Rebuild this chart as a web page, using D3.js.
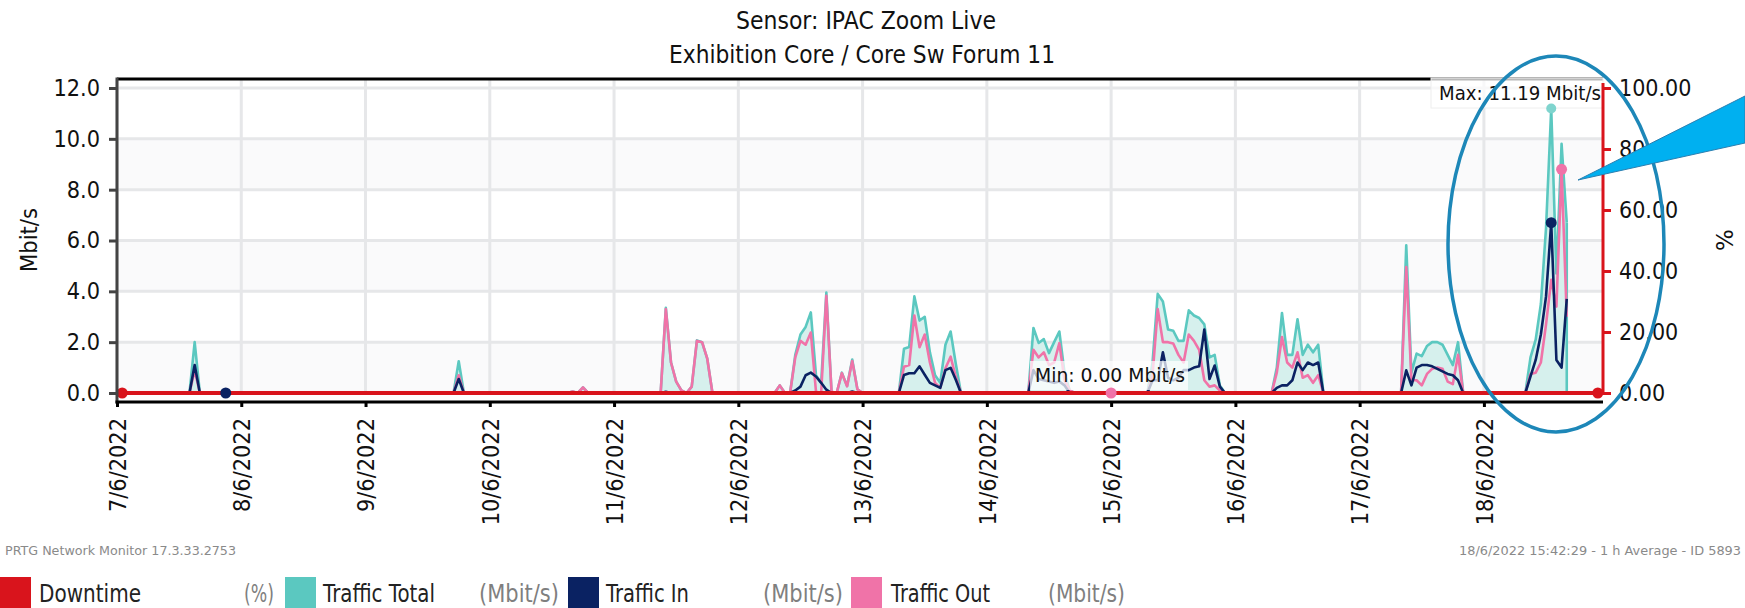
<!DOCTYPE html>
<html><head><meta charset="utf-8">
<script src="https://cdn.jsdelivr.net/npm/d3@7"></script>
<style>
html,body{margin:0;padding:0;background:#fff;overflow:hidden;}
svg{display:block;font-family:"DejaVu Sans",sans-serif;}
</style></head><body>
<svg id="chart" width="1745" height="608"></svg>
<script>
// ---------------- DATA ----------------
const titleLines = ["Sensor: IPAC Zoom Live", "Exhibition Core / Core Sw Forum 11"];
const xTickLabels = ["7/6/2022","8/6/2022","9/6/2022","10/6/2022","11/6/2022","12/6/2022","13/6/2022","14/6/2022","15/6/2022","16/6/2022","17/6/2022","18/6/2022"];
const yTicks = [0, 2, 4, 6, 8, 10, 12];
const pctTicks = [0, 20, 40, 60, 80, 100];
// hour offsets from 7/6/2022 00:00 (1 h averages); hours not listed are 0
const hours = [15, 66, 88, 90,
  106,107,108,109,111,112,113,114,
  128,131,132,133,134,135,136,137,138,140,141,142,143,
  152,153,154,155,156,157,158,159,160,161,162,
  177,178,179,180,181,182,183,184,
  200,201,202,203,204,205,206,207,208,209,210,211,212,213,
  224,225,226,227,228,229,230,231,232,
  249,250,251,252,253,254,255,256,257,258,259,
  273,274,275,276,277,278,279,280];
const trafficTotal = [2.0, 1.25, 0.06, 0.22,
  3.35,1.2,0.45,0.1,0.25,2.07,2.0,1.35,
  0.3,1.5,2.3,2.6,3.17,0.7,0.4,3.95,0.05,0.8,0.28,1.32,0.15,
  1.74,1.81,3.8,2.85,3.0,1.6,0.7,0.4,1.9,2.42,1.15,
  2.56,1.97,2.12,1.57,2.0,2.42,0.8,0.1,
  1.2,3.9,3.6,2.5,2.45,2.05,2.05,3.25,3.05,2.95,2.7,1.4,1.5,0.3,
  1.0,3.15,1.5,1.5,2.9,1.5,1.9,1.6,1.9,
  5.81,0.8,1.55,1.45,1.85,2.0,2.0,1.9,1.5,1.1,2.0,
  1.4,2.1,3.5,6.5,11.19,4.7,9.8,6.7];
const trafficIn = [1.1, 0.55, 0, 0,
  0.05,0,0,0,0,0.02,0,0,
  0,0.1,0.25,0.7,0.8,0.65,0.4,0.13,0,0.02,0,0.06,0,
  0.71,0.78,0.78,1.05,0.72,0.4,0.3,0.2,0.9,0.99,0.52,
  0.9,0.55,0.5,0.45,0.4,0.45,0.3,0,
  0.5,0.5,1.6,0.6,0.5,0.6,0.9,0.9,1.0,1.05,2.5,0.55,1.08,0.25,
  0.2,0.3,0.3,0.5,1.2,0.9,1.2,1.1,1.2,
  0.89,0.3,1.0,1.1,1.1,1.05,0.95,0.85,0.75,0.7,0.5,
  0.65,1.3,2.3,3.8,6.7,1.3,1.0,3.7];
const trafficOut = [0.9, 0.7, 0.06, 0.22,
  3.3,1.2,0.45,0.1,0.25,2.05,2.0,1.35,
  0.3,1.4,2.05,1.9,2.38,0.05,0,3.82,0.05,0.78,0.26,1.26,0.15,
  1.03,1.1,3.05,1.8,2.3,1.2,0.4,0.2,0.97,1.43,0.63,
  1.7,1.4,1.6,1.1,1.2,1.96,0.5,0.1,
  0.7,3.3,2.0,2.0,1.95,1.5,1.2,2.3,2.05,1.7,0.5,0.25,0.3,0.1,
  0.8,2.2,1.2,1.0,1.6,0.6,0.7,0.4,0.7,
  4.96,0.5,0.5,0.3,0.75,0.95,1.0,0.95,0.45,0.35,1.5,
  0.75,0.8,1.2,2.7,4.45,3.4,8.8,3.0];
const lastDataHour = 280;
const domainHours = 287;
const downtimeMarkerHours = [1, 286];
const minInHour = 21, minOutHour = 192;
const maxLabel = "Max: 11.19 Mbit/s", minLabel = "Min: 0.00 Mbit/s";
const legendNames = ["Downtime", "Traffic Total", "Traffic In", "Traffic Out"];
const legendUnits = ["(%)", "(Mbit/s)", "(Mbit/s)", "(Mbit/s)"];
const footerLeft = "PRTG Network Monitor 17.3.33.2753";
const footerRight = "18/6/2022 15:42:29 - 1 h Average - ID 5893";

// ---------------- STYLE ----------------
const C = {red:"#d9141c", teal:"#5bc8c0", navy:"#0a2262", pink:"#f073a8", grid:"#e6e7e9", band:"#fafafb", area:"#d2eeeb"};
const L = {left:117, right:1603, top:79, zero:393, y12:88, axisY:402};

const svg = d3.select("#chart");
const t0 = Date.UTC(2022, 5, 7);
const H = 3600 * 1000;
const x = d3.scaleUtc().domain([new Date(t0), new Date(t0 + domainHours * H)]).range([L.left, L.right]);
const y = d3.scaleLinear().domain([0, 12]).range([L.zero, L.y12]);
const yPct = d3.scaleLinear().domain([0, 100]).range([L.zero, L.y12]);
const hx = h => x(new Date(t0 + h * H));

function squeeze(sel, f) { sel.each(function(){ const w = this.getComputedTextLength(); d3.select(this).attr("textLength", w * f).attr("lengthAdjust", "spacingAndGlyphs"); }); }
function fit(sel, w) { sel.attr("textLength", w).attr("lengthAdjust", "spacingAndGlyphs"); }

// full hourly series
const lookup = new Map(hours.map((h, i) => [h, i]));
const series = d3.range(0, lastDataHour + 1).map(h => {
  const i = lookup.get(h);
  return {h, total: i === undefined ? 0 : trafficTotal[i], tin: i === undefined ? 0 : trafficIn[i], tout: i === undefined ? 0 : trafficOut[i]};
});

// bands
const bandPairs = [[0,2],[4,6],[8,10]];
svg.append("g").selectAll("rect").data(bandPairs).join("rect")
  .attr("x", L.left).attr("width", L.right - L.left)
  .attr("y", d => y(d[1])).attr("height", d => y(d[0]) - y(d[1])).attr("fill", C.band);

// gridlines
const days = d3.range(0, 12).map(d => new Date(t0 + d * 24 * H));
svg.append("g").selectAll("line").data(yTicks).join("line")
  .attr("x1", L.left).attr("x2", L.right).attr("y1", d => y(d)).attr("y2", d => y(d))
  .attr("stroke", C.grid).attr("stroke-width", 3);
svg.append("g").selectAll("line").data(days).join("line")
  .attr("x1", d => x(d)).attr("x2", d => x(d)).attr("y1", L.top).attr("y2", L.zero)
  .attr("stroke", C.grid).attr("stroke-width", 3);

// area + lines
const area = d3.area().x(d => hx(d.h)).y0(y(0)).y1(d => y(d.total));
svg.append("path").datum(series).attr("d", area).attr("fill", C.area).attr("fill-opacity", 0.9);
const mk = key => d3.line().x(d => hx(d.h)).y(d => y(d[key]));
svg.append("path").datum(series).attr("d", mk("total")).attr("fill", "none").attr("stroke", C.teal).attr("stroke-width", 2.6).attr("stroke-linejoin", "round");
const lastP = series[series.length - 1];
svg.append("line").attr("x1", hx(lastP.h)).attr("x2", hx(lastP.h)).attr("y1", y(lastP.total)).attr("y2", y(0)).attr("stroke", C.teal).attr("stroke-width", 2.6);
svg.append("path").datum(series).attr("d", mk("tout")).attr("fill", "none").attr("stroke", C.pink).attr("stroke-width", 2.6).attr("stroke-linejoin", "round");
svg.append("path").datum(series).attr("d", mk("tin")).attr("fill", "none").attr("stroke", C.navy).attr("stroke-width", 2.6).attr("stroke-linejoin", "round");

// top border
svg.append("line").attr("x1", L.left).attr("x2", L.right).attr("y1", L.top).attr("y2", L.top).attr("stroke", "#000").attr("stroke-width", 3);

// Max / Min label boxes (semi-transparent, over the lines)
svg.append("rect").attr("x", 1431).attr("y", 78).attr("width", L.right - 1431).attr("height", 30).attr("fill", "#fff").attr("fill-opacity", 0.72).attr("stroke", "#eee");
svg.append("text").attr("x", 1439).attr("y", 100).attr("font-size", 19).attr("fill", "#111").text(maxLabel).call(fit, 162);
svg.append("rect").attr("x", 1030).attr("y", 361).attr("width", 158).attr("height", 29).attr("fill", "#fff").attr("fill-opacity", 0.72);
svg.append("text").attr("x", 1035).attr("y", 382).attr("font-size", 19).attr("fill", "#111").text(minLabel).call(fit, 150);

// downtime line
svg.append("line").attr("x1", L.left).attr("x2", L.right).attr("y1", yPct(0)).attr("y2", yPct(0)).attr("stroke", C.red).attr("stroke-width", 4);

// markers
const maxT = d3.maxIndex(series, d => d.total), maxI = d3.maxIndex(series, d => d.tin), maxO = d3.maxIndex(series, d => d.tout);
const markers = [
  {h: series[maxT].h, v: series[maxT].total, c: "#7fd4ce", r: 5},
  {h: series[maxI].h, v: series[maxI].tin, c: C.navy, r: 5.5},
  {h: series[maxO].h, v: series[maxO].tout, c: C.pink, r: 5.5},
  {h: minInHour, v: 0, c: C.navy, r: 5.5},
  {h: minOutHour, v: 0, c: C.pink, r: 5.5},
  {h: downtimeMarkerHours[0], v: 0, c: C.red, r: 5.5},
  {h: downtimeMarkerHours[1], v: 0, c: C.red, r: 5.5}
];
svg.append("g").selectAll("circle").data(markers).join("circle")
  .attr("cx", d => hx(d.h)).attr("cy", d => y(d.v)).attr("r", d => d.r).attr("fill", d => d.c);

// left axis
const gl = svg.append("g").attr("transform", `translate(${L.left},0)`)
  .call(d3.axisLeft(y).tickValues(yTicks).tickFormat(d3.format(".1f")).tickSize(8).tickPadding(9).tickSizeOuter(0));
gl.select(".domain").remove();
gl.selectAll(".tick line").attr("stroke", "#444").attr("stroke-width", 3);
gl.selectAll(".tick text").attr("font-size", 23).attr("font-family", "DejaVu Sans").attr("fill", "#111").call(squeeze, 0.91);
svg.append("line").attr("x1", L.left).attr("x2", L.left).attr("y1", L.top - 1.5).attr("y2", L.axisY + 1.5).attr("stroke", "#444").attr("stroke-width", 3);

// right axis
const gr = svg.append("g").attr("transform", `translate(${L.right},0)`)
  .call(d3.axisRight(yPct).tickValues(pctTicks).tickFormat(d3.format(".2f")).tickSize(8).tickPadding(8).tickSizeOuter(0));
gr.select(".domain").remove();
gr.selectAll(".tick line").attr("stroke", C.red).attr("stroke-width", 3);
gr.selectAll(".tick text").attr("font-size", 23).attr("font-family", "DejaVu Sans").attr("fill", "#111").call(squeeze, 0.9);
svg.append("line").attr("x1", L.right).attr("x2", L.right).attr("y1", L.top + 4).attr("y2", yPct(0)).attr("stroke", C.red).attr("stroke-width", 3);

// bottom axis
const gb = svg.append("g").attr("transform", `translate(0,${L.axisY})`)
  .call(d3.axisBottom(x).tickValues(days).tickFormat((d, i) => xTickLabels[i]).tickSize(5).tickSizeOuter(0));
gb.select(".domain").remove();
gb.selectAll(".tick line").attr("stroke", "#000").attr("stroke-width", 3);
gb.selectAll(".tick text").attr("font-size", 23).attr("font-family", "DejaVu Sans").attr("fill", "#111")
  .attr("text-anchor", "end").attr("transform", "rotate(-90)").attr("x", -16).attr("y", 0).attr("dy", "0.36em").call(squeeze, 0.91);
svg.append("line").attr("x1", L.left - 1.5).attr("x2", L.right).attr("y1", L.axisY).attr("y2", L.axisY).attr("stroke", "#000").attr("stroke-width", 3);

// axis titles
svg.append("text").attr("transform", "translate(37,240) rotate(-90)").attr("text-anchor", "middle")
  .attr("font-size", 23).attr("fill", "#111").text("Mbit/s").call(squeeze, 0.92);
svg.append("text").attr("transform", "translate(1733,240) rotate(-90)").attr("text-anchor", "middle")
  .attr("font-size", 23).attr("fill", "#111").text("%");

// title
svg.append("text").attr("x", 866).attr("y", 29).attr("text-anchor", "middle").attr("font-size", 24).attr("fill", "#111").text(titleLines[0]).call(fit, 260);
svg.append("text").attr("x", 862).attr("y", 63).attr("text-anchor", "middle").attr("font-size", 24).attr("fill", "#111").text(titleLines[1]).call(fit, 386);

// footer
svg.append("text").attr("x", 5).attr("y", 555).attr("font-size", 13).attr("fill", "#8a8a8a").text(footerLeft).call(fit, 231);
svg.append("text").attr("x", 1741).attr("y", 555).attr("text-anchor", "end").attr("font-size", 13).attr("fill", "#8a8a8a").text(footerRight).call(fit, 282);

// legend
const legendColors = [C.red, C.teal, C.navy, C.pink];
const legSquareX = [0, 285, 568, 851];
const legNameX = [39, 323, 606, 891], legNameW = [102, 112, 83, 99];
const legUnitX = [244, 479, 763, 1048], legUnitW = [30, 80, 80, 77];
legendNames.forEach((n, i) => {
  svg.append("rect").attr("x", legSquareX[i]).attr("y", 577).attr("width", 31).attr("height", 31).attr("fill", legendColors[i]);
  svg.append("text").attr("x", legNameX[i]).attr("y", 602).attr("font-size", 25).attr("fill", "#222").text(n).call(fit, legNameW[i]);
  svg.append("text").attr("x", legUnitX[i]).attr("y", 602).attr("font-size", 25).attr("fill", "#7f7f7f").text(legendUnits[i]).call(fit, legUnitW[i]);
});

// annotation overlay: ellipse + callout wedge
svg.append("ellipse").attr("cx", 1556).attr("cy", 244).attr("rx", 108).attr("ry", 188)
  .attr("fill", "none").attr("stroke", "#1d87b8").attr("stroke-width", 3.5);
svg.append("polygon").attr("points", "1578,180 1745,96 1745,143").attr("fill", "#00b0f0").attr("stroke", "#2a7fb0").attr("stroke-width", 1);
</script>
</body></html>
